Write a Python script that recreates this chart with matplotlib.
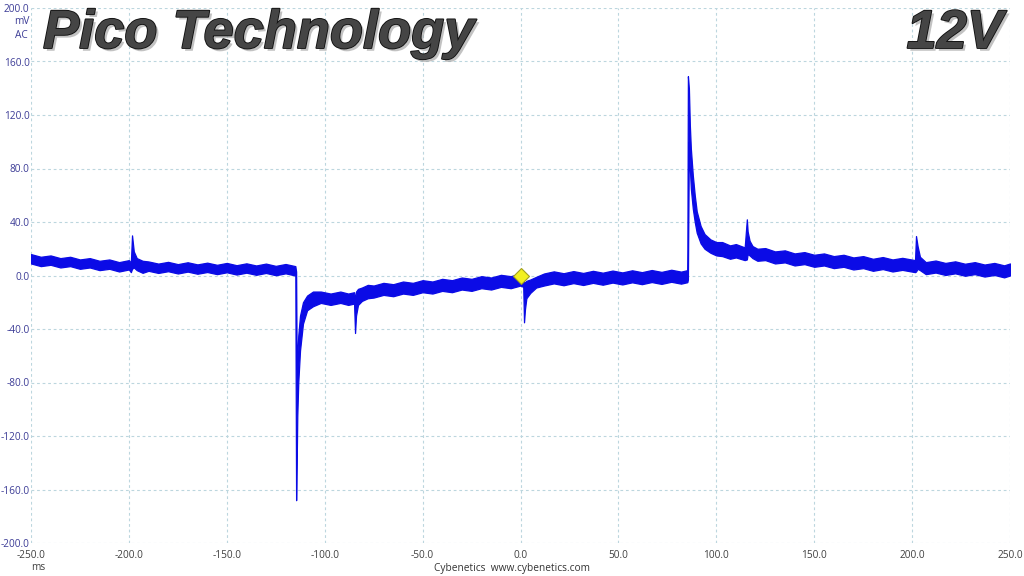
import matplotlib
matplotlib.use("Agg")
import matplotlib.pyplot as plt
import matplotlib.patheffects as pe

# ---- data ----
t_ms = [-250, -245, -240, -235, -230, -225, -220, -215, -210, -205, -200, -199.0,
        -198.4, -197.5, -196, -193,
        -190, -185, -180, -175, -170, -165, -160, -155, -150, -145, -140, -135, -130, -125, -120, -115.0,
        -114.6, -114.3, -114.0, -113.5, -112.6, -111.1, -109.0, -106.0,
        -102, -97, -92, -88, -85.0,
        -84.5, -84.0, -83.0, -81, -78,
        -75, -70, -65, -60, -55, -50, -45, -40, -35, -30, -25, -20, -15, -10, -5, 0, 1.4,
        1.8, 2.3, 3, 5, 8,
        12, 17, 22, 27, 32, 37, 42, 47, 52, 57, 62, 67, 72, 77, 82, 85.2,
        85.5, 86.0, 86.5, 87, 88, 89, 90, 92, 94, 97, 100, 103, 107, 110, 114.5,
        115.6, 116, 117, 118.5,
        121, 125, 130, 135, 140, 145, 150, 155, 160, 165, 170, 175, 180, 185, 190, 195, 201.5,
        202, 202.8, 204,
        207, 212, 217, 222, 227, 232, 237, 242, 247, 250]
hi_mv = [16, 14, 15, 13, 14, 12, 13, 11, 12, 10, 11.5, 9.5,
         30, 18, 13, 11,
         10.5, 8.9, 10.2, 8.5, 9.9, 8.3, 9.6, 8, 9.4, 7.7, 9.1, 7.5, 8.9, 7.2, 8.6, 7,
         3, -70, -60, -45, -30, -20, -15, -12,
         -12, -13.5, -12, -13.5, -12.5,
         -18, -12, -10, -9, -7,
         -7.5, -5.5, -6.5, -4.5, -5.5, -3.5, -4.5, -2.5, -3.5, -1.5, -2.5, -0.5, -1.5, 0.5, -0.5, 1.5, -0.5,
         -5, -5, -4, -3, -1,
         1.5, 3.1, 1.7, 3.3, 1.9, 3.5, 2.1, 3.7, 2.3, 3.9, 2.5, 4.1, 2.7, 4.3, 2.9, 4,
         149, 140, 112, 95, 75, 60, 48, 37, 31, 27, 25, 25, 22.5, 23.5, 21,
         42, 33, 26, 22,
         20, 20.5, 18, 18.8, 16.5, 17.5, 15.5, 16.5, 14.5, 15.5, 13.5, 14.5, 12.5, 13.8, 12, 13.2, 11.5,
         29.5, 22, 14,
         10, 11.2, 9.4, 10.6, 8.8, 10, 8.2, 9.4, 7.6, 9]
lo_mv = [9, 7, 8, 6, 7, 5, 6, 4, 5, 3, 4.5, 2.5,
         5, 6, 4, 2,
         3.5, 1.9, 3.2, 1.5, 2.9, 1.3, 2.6, 1, 2.4, 0.7, 2.1, 0.5, 1.9, 0.2, 1.6, 0,
         -168, -140, -105, -80, -56, -36, -26, -23,
         -20.5, -22, -20.5, -22, -21,
         -43, -30, -22, -19, -17,
         -16.5, -14.5, -15.5, -13.5, -14.5, -12.5, -13.5, -11.5, -12.5, -10.5, -11.5, -9.5, -10.5, -8.5, -9.5, -7.5, -8.5,
         -35, -25, -17, -13, -9,
         -7.5, -5.9, -7.3, -5.7, -7.1, -5.5, -6.9, -5.3, -6.7, -5.1, -6.5, -4.9, -6.3, -4.7, -6.1, -5,
         -3, 100, 80, 65, 50, 40, 32, 24, 20, 17, 15, 14.5, 12.5, 13.5, 11.5,
         12, 16, 15, 13,
         11, 11.5, 9, 9.8, 7.5, 8.5, 6.5, 7.5, 5.5, 6.5, 4.5, 5.5, 3.5, 4.8, 3, 4.2, 2.5,
         3, 5, 4,
         1, 2.2, 0.4, 1.6, -0.2, 1, -0.8, 0.4, -1.4, 0]

marker_t = [0.0]
marker_v = [0.0]

x_ticks = [-250, -200, -150, -100, -50, 0, 50, 100, 150, 200, 250]
y_ticks = [-200, -160, -120, -80, -40, 0, 40, 80, 120, 160, 200]

# ---- figure ----
W, H = 1024, 576
fig = plt.figure(figsize=(W / 100, H / 100), dpi=100)
L, R, T, B = 31, 1010, 8, 543
ax = fig.add_axes([L / W, 1 - B / H, (R - L) / W, (B - T) / H])
ax.set_xlim(-250, 250)
ax.set_ylim(-200, 200)

trace_col = '#0b0be6'
ax.fill_between(t_ms, lo_mv, hi_mv, color=trace_col, linewidth=0.9,
                edgecolor=trace_col, zorder=3)
ax.plot(marker_t, marker_v, marker='D', markersize=8, color='#f2f020',
        markeredgecolor='#a0a020', markeredgewidth=0.8, linestyle='none', zorder=5)

for s in ax.spines.values():
    s.set_visible(False)
ax.set_xticks(x_ticks)
ax.set_yticks(y_ticks)
ax.set_xticklabels([f"{v:.1f}" for v in x_ticks])
ax.set_yticklabels([f"{v:.1f}" for v in y_ticks])
ax.tick_params(axis='both', length=0, labelsize=7.3)
ax.tick_params(axis='y', pad=1, labelcolor='#3c3c96')
ax.tick_params(axis='x', pad=5, labelcolor='#404040')
for lab in ax.get_xticklabels() + ax.get_yticklabels():
    lab.set_family(['Open Sans', 'DejaVu Sans'])
ax.grid(True, color='#bcd6de', linestyle=(0, (2.5, 2.5)), linewidth=0.8)
ax.set_axisbelow(True)

# unit labels
fig.text(22 / W, 1 - 21 / H, "mV", ha='center', va='center', fontsize=7.3,
         color='#3c3c96', family=['Open Sans', 'DejaVu Sans'])
fig.text(21 / W, 1 - 36 / H, "AC", ha='center', va='center', fontsize=7.3,
         color='#3c3c96', family=['Open Sans', 'DejaVu Sans'])
fig.text(38 / W, 1 - 568 / H, "ms", ha='center', va='center', fontsize=7.3,
         color='#404040', family=['Open Sans', 'DejaVu Sans'])
fig.text(512 / W, 1 - 568 / H, "Cybenetics  www.cybenetics.com", ha='center',
         va='center', fontsize=7.3, color='#333333', family=['Open Sans', 'DejaVu Sans'])

# titles
effects = [pe.SimplePatchShadow(offset=(2, -2), shadow_rgbFace='#a8a8a8', alpha=0.7),
           pe.Stroke(linewidth=1.3, foreground='#111111'), pe.Normal()]
fig.text(43 / W, 1 - 48 / H, "Pico Technology", ha='left', va='baseline',
         fontsize=39, fontweight='bold', fontstyle='italic', color='#454545',
         family='Liberation Sans', path_effects=effects)
fig.text(1003 / W, 1 - 48 / H, "12V", ha='right', va='baseline',
         fontsize=39, fontweight='bold', fontstyle='italic', color='#454545',
         family='Liberation Sans', path_effects=effects)

fig.savefig("out.png", dpi=100)
